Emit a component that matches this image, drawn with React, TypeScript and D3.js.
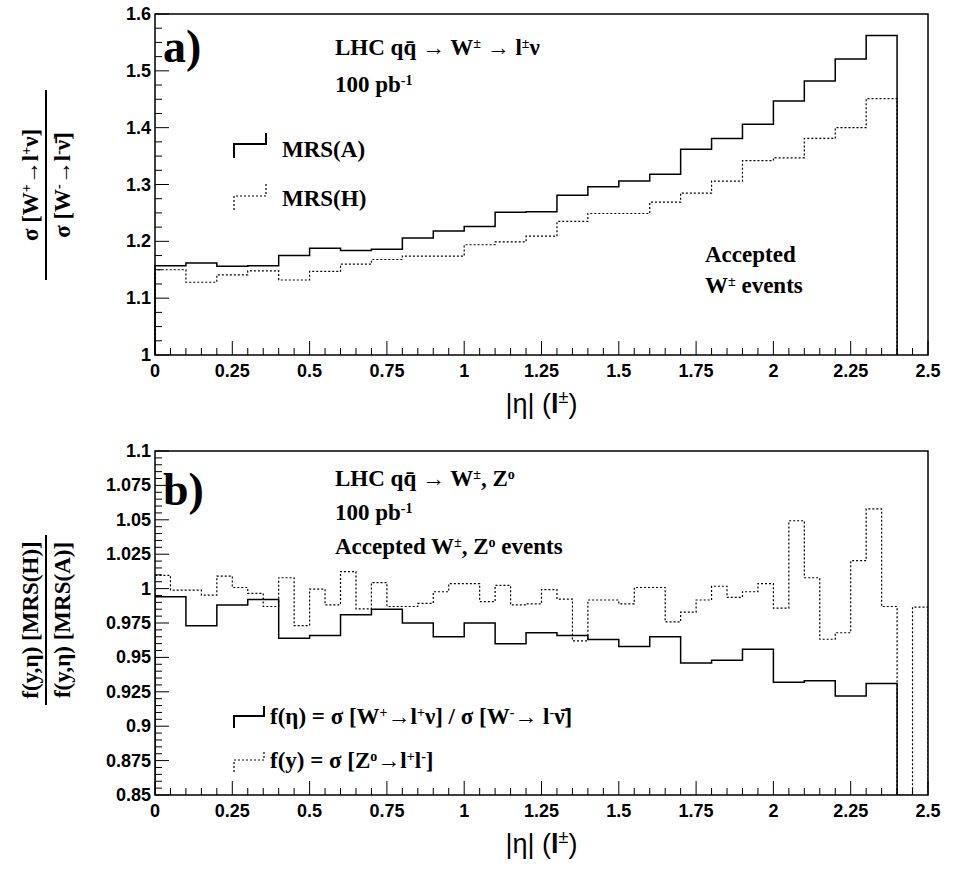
import * as d3 from "d3";

// top panel: 24 bins of 0.1 in |eta|
const mrsA = [1.157, 1.162, 1.156, 1.157, 1.175, 1.188, 1.184, 1.186, 1.206, 1.218, 1.226, 1.251,
  1.252, 1.281, 1.296, 1.306, 1.318, 1.362, 1.381, 1.406, 1.447, 1.482, 1.521, 1.562];
const mrsH = [1.150, 1.128, 1.141, 1.148, 1.132, 1.147, 1.160, 1.168, 1.174, 1.174, 1.194, 1.199,
  1.209, 1.235, 1.249, 1.249, 1.269, 1.285, 1.306, 1.342, 1.347, 1.381, 1.400, 1.451];

// bottom panel: W ratio (0.1 bins) and Z ratio (0.05 bins)
const wRatio = [0.994, 0.973, 0.988, 0.992, 0.964, 0.966, 0.981, 0.985, 0.975, 0.965, 0.975, 0.960,
  0.968, 0.966, 0.963, 0.958, 0.965, 0.946, 0.948, 0.956, 0.932, 0.933, 0.922, 0.931];
const zRatio = [1.0096, 0.9989, 0.9989, 0.9953, 1.0091, 1.0008, 0.9965, 0.987, 1.0079, 0.9731,
  0.9996, 0.9881, 1.0124, 0.9853, 1.0043, 0.987, 0.987, 0.9893, 0.9977, 1.0036, 1.0036, 0.9905,
  1.0024, 0.9881, 0.9889, 0.9993, 0.9924, 0.962, 0.9917, 0.9917, 0.9889, 1.0008, 1.0008, 0.9758,
  0.9829, 0.9917, 1.0017, 0.9936, 0.9977, 1.0036, 0.9858, 1.0493, 1.0079, 0.9632, 0.9679, 1.0203,
  1.0579, 0.987, 0.85, 0.9865];

const xTicks = [0, 0.25, 0.5, 0.75, 1, 1.25, 1.5, 1.75, 2, 2.25, 2.5];
const topYTicks = [1, 1.1, 1.2, 1.3, 1.4, 1.5, 1.6];
const botYTicks = [0.85, 0.875, 0.9, 0.925, 0.95, 0.975, 1, 1.025, 1.05, 1.075, 1.1];

const W = 959, H = 877;
const SANS = "Liberation Sans, Arial, sans-serif";
const SERIF = "Liberation Serif, Times New Roman, serif";

function stepPath(vals: number[], bw: number, x: d3.ScaleLinear<number, number>, y: d3.ScaleLinear<number, number>, y0: number) {
  let p = `M${x(0)},${y(y0)}`;
  vals.forEach((v, i) => {
    p += `L${x(i * bw)},${y(v)}L${x((i + 1) * bw)},${y(v)}`;
  });
  p += `L${x(vals.length * bw)},${y(y0)}`;
  return p;
}

function Axes({ x, y, yTicks, minorY }: any) {
  const [y0, y1] = y.domain();
  const minorX = d3.range(0, 2.5001, 0.05);
  const mY = d3.range(y0, y1 + 1e-6, minorY);
  const X0 = x(0), Yb = y(y0);
  return (
    <g>
      <rect x={X0} y={y(y1)} width={x(2.5) - X0} height={Yb - y(y1)} fill="none" stroke="#000" strokeWidth={1.5} />
      {minorX.map((t, i) => (
        <line key={"mx" + i} x1={x(t)} x2={x(t)} y1={Yb} y2={Yb - (i % 5 === 0 ? 14 : 7)} stroke="#000" />
      ))}
      {mY.map((t, i) => {
        const major = yTicks.some((m: number) => Math.abs(m - t) < 1e-6);
        return <line key={"my" + i} x1={X0} x2={X0 + (major ? 14 : 7)} y1={y(t)} y2={y(t)} stroke="#000" />;
      })}
      {xTicks.map((t) => (
        <text key={"xt" + t} x={x(t)} y={Yb + 22} textAnchor="middle" fontFamily={SANS} fontWeight="bold" fontSize={18}>{t}</text>
      ))}
      {yTicks.map((t: number) => (
        <text key={"yt" + t} x={X0 - 4} y={y(t) + 6} textAnchor="end" fontFamily={SANS} fontWeight="bold" fontSize={18}>{t}</text>
      ))}
      <text x={x(1.25)} y={Yb + 58} textAnchor="middle" fontFamily={SANS} fontSize={27}>
        |η| (<tspan fontWeight="bold">l</tspan><tspan fontSize={18} baselineShift="super">±</tspan>)
      </text>
    </g>
  );
}

const Sup = ({ t }: { t: string }) => <tspan fontSize={14} baselineShift="super">{t}</tspan>;

export default function App() {
  const x = d3.scaleLinear().domain([0, 2.5]).range([155, 928]);
  const yT = d3.scaleLinear().domain([1, 1.6]).range([355, 14]);
  const yB = d3.scaleLinear().domain([0.85, 1.1]).range([795, 451]);
  const tf = { fontFamily: SERIF, fontWeight: "bold", fontSize: 23 } as const;
  return (
    <svg width={W} height={H} style={{ position: "absolute", left: 0, top: 0, background: "#fff" }}>
      <defs>
        <clipPath id="cb"><rect x={155} y={451} width={773} height={344} /></clipPath>
      </defs>
      {/* panel a */}
      <Axes x={x} y={yT} yTicks={topYTicks} minorY={0.025} />
      <path d={stepPath(mrsA, 0.1, x, yT, 1)} fill="none" stroke="#000" strokeWidth={1.5} />
      <path d={stepPath(mrsH, 0.1, x, yT, 1)} fill="none" stroke="#000" strokeWidth={1.2} strokeDasharray="2,2" />
      <text x={163} y={62} fontFamily={SERIF} fontWeight="bold" fontSize={46}>a)</text>
      <text x={335} y={55} {...tf}>LHC  qq̄ → W<Sup t="±" /> → l<Sup t="±" />ν</text>
      <text x={335} y={92} {...tf}>100 pb<Sup t="-1" /></text>
      <path d="M234,158V144H266V133" fill="none" stroke="#000" strokeWidth={2} />
      <text x={282} y={157} {...tf}>MRS(A)</text>
      <path d="M234,210V196H266V184" fill="none" stroke="#000" strokeWidth={1.2} strokeDasharray="2,2" />
      <text x={282} y={206} {...tf}>MRS(H)</text>
      <text x={705} y={262} {...tf}>Accepted</text>
      <text x={705} y={293} {...tf}>W<Sup t="±" /> events</text>
      <g transform="translate(0,185) rotate(-90)" {...tf}>
        <text x={0} y={38} textAnchor="middle">σ [W<Sup t="+" />→l<Sup t="+" />ν]</text>
        <line x1={-95} x2={95} y1={46} y2={46} stroke="#000" strokeWidth={2} />
        <text x={0} y={70} textAnchor="middle">σ [W<Sup t="-" />→l<Sup t="-" />ν̄]</text>
      </g>
      {/* panel b */}
      <Axes x={x} y={yB} yTicks={botYTicks} minorY={0.005} />
      <g clipPath="url(#cb)">
        <path d={stepPath(wRatio, 0.1, x, yB, 0.85)} fill="none" stroke="#000" strokeWidth={1.5} />
        <path d={stepPath(zRatio, 0.05, x, yB, 0.85)} fill="none" stroke="#000" strokeWidth={1.2} strokeDasharray="2,2" />
      </g>
      <text x={163} y={505} fontFamily={SERIF} fontWeight="bold" fontSize={46}>b)</text>
      <text x={335} y={486} {...tf}>LHC  qq̄ → W<Sup t="±" />, Z<Sup t="o" /></text>
      <text x={335} y={520} {...tf}>100 pb<Sup t="-1" /></text>
      <text x={335} y={554} {...tf}>Accepted W<Sup t="±" />, Z<Sup t="o" /> events</text>
      <path d="M234,728V716H264V706" fill="none" stroke="#000" strokeWidth={2} />
      <text x={270} y={724} {...tf}>f(η) = σ [W<Sup t="+" />→l<Sup t="+" />ν] / σ [W<Sup t="-" />→ l<Sup t="-" />ν̄]</text>
      <path d="M234,772V760H264V750" fill="none" stroke="#000" strokeWidth={1.2} strokeDasharray="2,2" />
      <text x={270} y={768} {...tf}>f(y) = σ [Z<Sup t="o" />→l<Sup t="+" />l<Sup t="-" />]</text>
      <g transform="translate(0,620) rotate(-90)" {...tf}>
        <text x={0} y={38} textAnchor="middle">f(y,η) [MRS(H)]</text>
        <line x1={-85} x2={85} y1={46} y2={46} stroke="#000" strokeWidth={2} />
        <text x={0} y={70} textAnchor="middle">f(y,η) [MRS(A)]</text>
      </g>
    </svg>
  );
}
